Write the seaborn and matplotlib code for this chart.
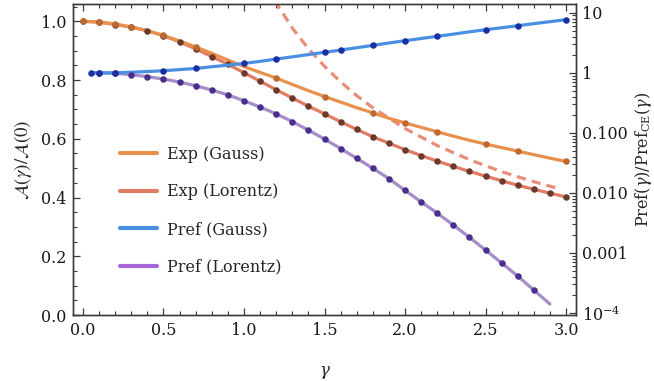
import numpy as np
import pandas as pd
import matplotlib
matplotlib.use("Agg")
import matplotlib.pyplot as plt
import seaborn as sns
from matplotlib.lines import Line2D
from matplotlib.ticker import MultipleLocator, LogLocator, FixedLocator, FixedFormatter, NullFormatter

# --- data -------------------------------------------------------------------
gamma = [0.0, 0.1, 0.2, 0.3, 0.4, 0.5, 0.6, 0.7, 0.8, 0.9, 1.0, 1.1, 1.2, 1.3, 1.4,
         1.5, 1.6, 1.7, 1.8, 1.9, 2.0, 2.1, 2.2, 2.3, 2.4, 2.5, 2.6, 2.7, 2.8, 2.9, 3.0]
exp_gauss = [1.000, 0.998, 0.991, 0.981, 0.968, 0.952, 0.933, 0.913, 0.891, 0.868,
             0.846, 0.826, 0.807, 0.785, 0.764, 0.744, 0.725, 0.706, 0.688, 0.670,
             0.654, 0.639, 0.624, 0.609, 0.595, 0.582, 0.570, 0.558, 0.546, 0.534, 0.523]
exp_lorentz = [1.000, 0.997, 0.989, 0.980, 0.968, 0.951, 0.930, 0.906, 0.880, 0.854,
               0.825, 0.796, 0.767, 0.739, 0.711, 0.685, 0.658, 0.632, 0.607, 0.585,
               0.563, 0.543, 0.524, 0.506, 0.489, 0.473, 0.457, 0.442, 0.428, 0.415, 0.402]
exp_gauss_marks = [0.0, 0.1, 0.2, 0.3, 0.5, 0.7, 1.2, 1.5, 1.8, 2.0, 2.2, 2.5, 2.7, 3.0]

gamma_pref = [0.05, 0.1, 0.2, 0.3, 0.4, 0.5, 0.6, 0.7, 0.8, 0.9, 1.0, 1.1, 1.2, 1.3, 1.4,
              1.5, 1.6, 1.7, 1.8, 1.9, 2.0, 2.1, 2.2, 2.3, 2.4, 2.5, 2.6, 2.7, 2.8, 2.9, 3.0]
pref_gauss = [1.00, 1.00, 1.00, 1.02, 1.05, 1.08, 1.13, 1.18, 1.26, 1.34, 1.43, 1.55,
              1.69, 1.84, 2.01, 2.19, 2.39, 2.61, 2.86, 3.13, 3.42, 3.72, 4.04, 4.40,
              4.80, 5.21, 5.62, 6.07, 6.57, 7.09, 7.64]
pref_gauss_marks = [0.05, 0.1, 0.2, 0.5, 0.7, 1.0, 1.2, 1.5, 1.6, 1.8, 2.0, 2.2, 2.5, 2.7, 3.0]

pref_lorentz = [1.00, 0.996, 0.977, 0.929, 0.863, 0.785, 0.700, 0.608, 0.516, 0.429,
                0.342, 0.268, 0.207, 0.154, 0.111, 0.0788, 0.0547, 0.0377, 0.0257,
                0.0173, 0.0110, 0.00712, 0.00460, 0.00292, 0.00182, 0.00112,
                0.000681, 0.000412, 0.000241, 0.000141]
pref_lorentz_marks = [0.1, 0.2, 0.3, 0.4, 0.5, 0.6, 0.7, 0.8, 0.9, 1.0, 1.1, 1.2, 1.3, 1.4,
                      1.5, 1.6, 1.7, 1.8, 1.9, 2.0, 2.1, 2.2, 2.3, 2.4, 2.5, 2.6, 2.7, 2.8]

# large-gamma asymptote of the Lorentz expectation value
gamma_asym = [1.19, 1.25, 1.3, 1.4, 1.5, 1.6, 1.7, 1.8, 2.0, 2.2, 2.4, 2.6, 2.8, 2.95]
exp_asym = [1.07, 1.02, 0.977, 0.907, 0.847, 0.794, 0.747, 0.706, 0.635, 0.577,
            0.529, 0.488, 0.454, 0.431]

legend_labels = ["Exp (Gauss)", "Exp (Lorentz)", "Pref (Gauss)", "Pref (Lorentz)"]
right_ticks = [1e-4, 1e-3, 1e-2, 1e-1, 1, 10]
right_ticklabels = [r"$10^{-4}$", "0.001", "0.010", "0.100", "1", "10"]

# --- tables -----------------------------------------------------------------
exp_df = pd.DataFrame({"gamma": gamma, "gauss": exp_gauss, "lorentz": exp_lorentz})
pref_g_df = pd.DataFrame({"gamma": gamma_pref, "val": pref_gauss})
pref_l_df = pd.DataFrame({"gamma": gamma_pref[:-1], "val": pref_lorentz})
asym_df = pd.DataFrame({"gamma": gamma_asym, "val": exp_asym})


def pick(df, marks):
    return df[np.round(df["gamma"], 2).isin(np.round(marks, 2))]


# --- style ------------------------------------------------------------------
sns.set_theme(style="ticks")
plt.rcParams["font.family"] = ["DejaVu Serif"]
plt.rcParams.update({
    "font.size": 11.5,
    "axes.edgecolor": "#3a3a3a",
    "axes.linewidth": 1.0,
    "xtick.color": "#3a3a3a",
    "ytick.color": "#3a3a3a",
    "xtick.labelcolor": "#1a1a1a",
    "ytick.labelcolor": "#1a1a1a",
    "xtick.labelsize": 11.5,
    "ytick.labelsize": 11.5,
    "mathtext.fontset": "dejavuserif",
})

c_og, c_og_dot = "#e8904c", "#c0692e"
c_lo, c_lo_dot = "#e27b63", "#6a3a2c"
c_bl, c_bl_dot = "#4a90e2", "#1b2fa0"
c_pu, c_pu_dot, c_pu_leg = "#a68cc8", "#4a2f8c", "#a866d8"
lw = 2.3
ms = 22

fig = plt.figure(figsize=(6.54, 3.81), dpi=100)
ax = fig.add_axes([73 / 654, 1 - 315 / 381, 503 / 654, 311 / 381])
ax2 = ax.twinx()

# Exp curves (left, linear)
sns.lineplot(data=asym_df, x="gamma", y="val", ax=ax, color="#e8806c", lw=lw,
             dashes=False, linestyle=(0, (2.9, 1.9)), alpha=0.9, zorder=2)
sns.lineplot(data=exp_df, x="gamma", y="lorentz", ax=ax, color=c_lo, lw=lw, zorder=3)
sns.scatterplot(data=exp_df, x="gamma", y="lorentz", ax=ax, color=c_lo_dot, s=ms,
                linewidth=0, zorder=4)
sns.lineplot(data=exp_df, x="gamma", y="gauss", ax=ax, color=c_og, lw=lw, zorder=3)
sns.scatterplot(data=pick(exp_df, exp_gauss_marks), x="gamma", y="gauss", ax=ax,
                color=c_og_dot, s=ms, linewidth=0, zorder=5)

# Pref curves (right, log)
sns.lineplot(data=pref_l_df, x="gamma", y="val", ax=ax2, color=c_pu, lw=lw, zorder=3)
sns.scatterplot(data=pick(pref_l_df, pref_lorentz_marks), x="gamma", y="val", ax=ax2,
                color=c_pu_dot, s=ms, linewidth=0, zorder=4)
sns.lineplot(data=pref_g_df, x="gamma", y="val", ax=ax2, color=c_bl, lw=lw, zorder=3)
sns.scatterplot(data=pick(pref_g_df, pref_gauss_marks), x="gamma", y="val", ax=ax2,
                color=c_bl_dot, s=ms, linewidth=0, zorder=5)

# --- axes -------------------------------------------------------------------
ax.set_xlim(-0.062, 3.062)
ax.set_ylim(0, 1.059)
ax2.set_yscale("log")
ax2.set_ylim(10 ** -4.033, 10 ** 1.145)

ax.xaxis.set_major_locator(MultipleLocator(0.5))
ax.xaxis.set_minor_locator(MultipleLocator(0.1))
ax.yaxis.set_major_locator(MultipleLocator(0.2))
ax.yaxis.set_minor_locator(MultipleLocator(0.05))
ax.xaxis.set_major_formatter(plt.FuncFormatter(lambda v, p: f"{v:.1f}"))
ax.yaxis.set_major_formatter(plt.FuncFormatter(lambda v, p: f"{v:.1f}"))
ax.tick_params(which="both", direction="in", top=True, right=False)
ax.tick_params(which="major", length=5, width=0.9, pad=5)
ax.tick_params(which="minor", length=3, width=0.8)

ax2.yaxis.set_major_locator(FixedLocator(right_ticks))
ax2.yaxis.set_major_formatter(FixedFormatter(right_ticklabels))
ax2.yaxis.set_minor_locator(LogLocator(base=10, subs=np.arange(2, 10)))
ax2.yaxis.set_minor_formatter(NullFormatter())
ax2.tick_params(which="both", direction="in")
ax2.tick_params(which="major", length=5, width=0.9, pad=4)
ax2.tick_params(which="minor", length=3, width=0.8)

ax.set_xlabel(r"$\gamma$", fontsize=12, labelpad=18)
ax.set_ylabel(r"$\mathcal{A}(\gamma)/\mathcal{A}(0)$", fontsize=13.5,
              math_fontfamily="stix", labelpad=5)
ax2.set_ylabel(r"Pref$(\gamma)$/Pref$_{\mathrm{CE}}(\gamma)$", fontsize=11.5,
               rotation=90, labelpad=4)

for a in (ax, ax2):
    leg = a.get_legend()
    if leg is not None:
        leg.remove()

handles = [Line2D([], [], color=c, lw=3) for c in (c_og, c_lo, c_bl, c_pu_leg)]
ax2.legend(handles, legend_labels, loc="upper left", bbox_to_anchor=(0.094, 0.545),
           frameon=False, borderpad=0, borderaxespad=0, handlelength=2.3,
           handletextpad=0.65, labelspacing=1.3, fontsize=11.5)

fig.savefig("out.png", dpi=100)
